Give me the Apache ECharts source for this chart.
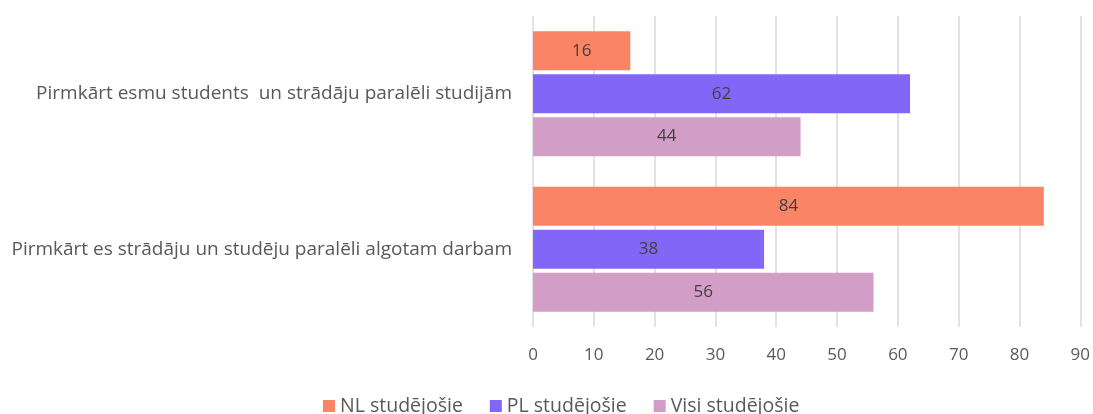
<!DOCTYPE html>
<html>
<head>
<meta charset="utf-8">
<script src="https://cdn.jsdelivr.net/npm/echarts@6/dist/echarts.min.js"></script>
<style>
  html, body { margin: 0; padding: 0; background: #fff; }
  #chart { width: 1093px; height: 414px; }
</style>
</head>
<body>
<div id="chart"></div>
<script>
const categories = [
  'Pirmkārt esmu students  un strādāju paralēli studijām',
  'Pirmkārt es strādāju un studēju paralēli algotam darbam'
]
const seriesNames = ['NL studējošie', 'PL studējošie', 'Visi studējošie']
const nlValues = [16, 84]
const plValues = [62, 38]
const allValues = [44, 56]
const colors = ['#FA8466', '#8266F8', '#D29EC8']

const font = '"Open Sans", sans-serif'
const chart = echarts.init(document.getElementById('chart'))

const makeSeries = (name, data, color) => ({
  name,
  type: 'bar',
  data,
  barWidth: 39,
  barGap: '10%',
  itemStyle: { color },
  label: {
    show: true,
    position: 'inside',
    color: '#404040',
    fontSize: 17,
    fontFamily: font
  }
})

chart.setOption({
  animation: false,
  textStyle: { fontFamily: font },
  grid: { left: 533, right: 12, top: 16, bottom: 87 },
  legend: {
    bottom: -7,
    left: 318,
    itemWidth: 12,
    itemHeight: 12,
    itemGap: 27,
    icon: 'rect',
    textStyle: { color: '#595959', fontSize: 19.5, fontFamily: font },
    data: seriesNames
  },
  xAxis: {
    type: 'value',
    min: 0,
    max: 90,
    interval: 10,
    axisLine: { show: false },
    axisTick: { show: false },
    axisLabel: { color: '#595959', fontSize: 17, margin: 20, fontFamily: font },
    splitLine: { lineStyle: { color: '#D9D9D9', width: 1.5 } }
  },
  yAxis: {
    type: 'category',
    data: categories,
    inverse: true,
    axisLine: { show: false },
    axisTick: { show: false },
    axisLabel: { color: '#595959', fontSize: 19, margin: 21, fontFamily: font }
  },
  series: [
    makeSeries(seriesNames[0], nlValues, colors[0]),
    makeSeries(seriesNames[1], plValues, colors[1]),
    makeSeries(seriesNames[2], allValues, colors[2])
  ]
})
</script>
</body>
</html>
